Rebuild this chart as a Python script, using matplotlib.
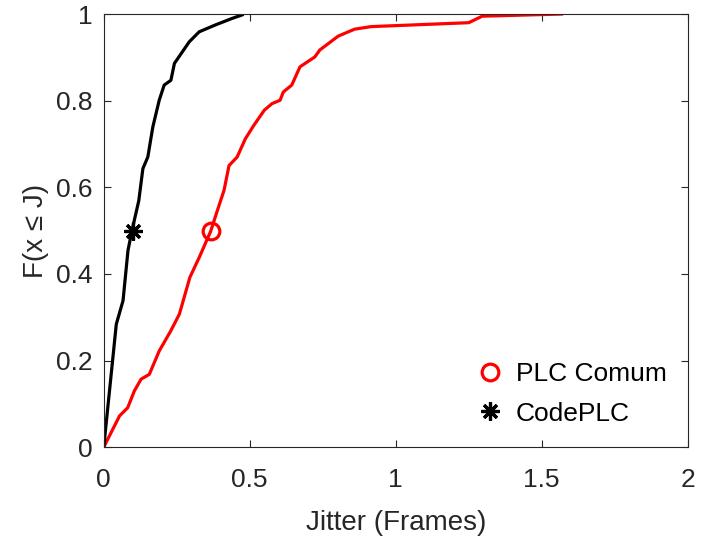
import numpy as np
import matplotlib
matplotlib.use("Agg")
import matplotlib.pyplot as plt

plt.rcParams['font.family'] = ['Liberation Sans', 'DejaVu Sans']

# CDF of jitter
codeplc_x = [0, 0.043, 0.066, 0.083, 0.096, 0.120, 0.134, 0.151, 0.168, 0.190,
             0.207, 0.230, 0.242, 0.293, 0.327, 0.383, 0.440, 0.474]
codeplc_y = [0, 0.284, 0.338, 0.454, 0.498, 0.569, 0.643, 0.670, 0.739, 0.801,
             0.836, 0.847, 0.886, 0.936, 0.959, 0.975, 0.990, 0.998]

comum_x = [0, 0.054, 0.082, 0.105, 0.128, 0.156, 0.190, 0.230, 0.259, 0.295,
           0.327, 0.366, 0.389, 0.412, 0.429, 0.457, 0.485, 0.514, 0.550, 0.576,
           0.604, 0.615, 0.644, 0.672, 0.723, 0.740, 0.803, 0.859, 0.916, 1.25,
           1.296, 1.568]
comum_y = [0, 0.072, 0.091, 0.130, 0.157, 0.168, 0.222, 0.269, 0.307, 0.392,
           0.438, 0.498, 0.546, 0.593, 0.650, 0.670, 0.712, 0.743, 0.778, 0.793,
           0.801, 0.820, 0.836, 0.878, 0.901, 0.917, 0.949, 0.965, 0.971, 0.980,
           0.995, 1.0]

# medians
comum_med = (0.367, 0.5)
codeplc_med = (0.099, 0.5)

fig = plt.figure(figsize=(7.01, 5.40), dpi=100)
ax = fig.add_axes([0.148, 0.172, 0.833, 0.802])

ax.plot(comum_x, comum_y, color='red', lw=2.3)
ax.plot(codeplc_x, codeplc_y, color='black', lw=2.3)
ax.plot(*comum_med, 'o', ms=12, mfc='none', mec='red', mew=2.3,
        linestyle='none', label='PLC Comum')
ax.plot(*codeplc_med, marker=(8, 2, 0), ms=13, color='black', mew=2.3,
        linestyle='none', label='CodePLC')

ax.set_xlim(0, 2)
ax.set_ylim(0, 1)
ax.set_xticks([0, 0.5, 1, 1.5, 2])
ax.set_xticklabels(['0', '0.5', '1', '1.5', '2'])
ax.set_yticks([0, 0.2, 0.4, 0.6, 0.8, 1])
ax.set_yticklabels(['0', '0.2', '0.4', '0.6', '0.8', '1'])
ax.tick_params(direction='in', top=True, right=True, labelsize=19,
               length=5, width=0.8, color='#262626', labelcolor='#262626')
ax.tick_params(axis='x', pad=15)
ax.tick_params(axis='y', pad=8)
for s in ax.spines.values():
    s.set_linewidth(0.8)
    s.set_color('#262626')

ax.set_xlabel('Jitter (Frames)', fontsize=20, color='#262626', labelpad=13)
ax.set_ylabel('F(x ≤ J)', fontsize=20, color='#262626', labelpad=5)

ax.legend(loc='lower right', frameon=False, fontsize=19, handletextpad=0.5,
          bbox_to_anchor=(1.005, -0.005), handlelength=1.0, labelspacing=0.58)

fig.savefig('out.png', dpi=100)
